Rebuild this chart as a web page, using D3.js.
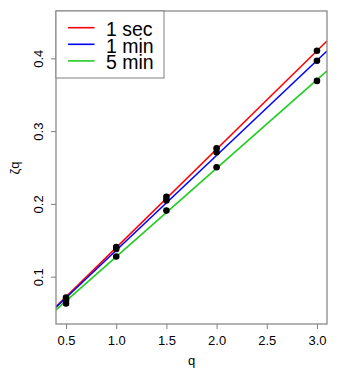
<!DOCTYPE html>
<html><head><meta charset="utf-8">
<script src="https://cdn.jsdelivr.net/npm/d3@7"></script>
<style>body{margin:0;background:#fff}svg{display:block}</style>
</head><body>
<svg id="c" width="338" height="381"></svg>
<script>
const qValues = [0.5, 1.0, 1.5, 2.0, 2.5, 3.0];
const seriesNames = ["1 sec", "1 min", "5 min"];
const seriesColors = ["#ff0000", "#0000ff", "#22cc22"];
const pts1sec = [0.0714, 0.1408, 0.2096, 0.2765, null, 0.4103];
const pts1min = [0.0680, 0.1380, 0.2048, 0.2710, null, 0.3967];
const pts5min = [0.0632, 0.1277, 0.1908, 0.2504, null, 0.3690];
const slopes = [0.1352, 0.1304, 0.1216];
const intercepts = [0.0047, 0.0058, 0.0057];
const xTicks = [0.5, 1.0, 1.5, 2.0, 2.5, 3.0];
const yTicks = [0.1, 0.2, 0.3, 0.4];

const svg = d3.select("#c");
const L = 56, R = 327, T = 11, B = 324;
const x = d3.scaleLinear().domain([0.4, 3.1]).range([L, R]);
const y = d3.scaleLinear().domain([0.035, 0.465]).range([B, T]);
const grey = "#808080";
const font = "Liberation Sans, Arial, sans-serif";

const xAxis = svg.append("g").attr("transform", `translate(0,${B})`)
  .call(d3.axisBottom(x).tickValues(xTicks).tickFormat(d3.format(".1f")).tickSize(5).tickPadding(7));
const yAxis = svg.append("g").attr("transform", `translate(${L},0)`)
  .call(d3.axisLeft(y).tickValues(yTicks).tickFormat(d3.format(".1f")).tickSize(5));
[xAxis, yAxis].forEach(g => {
  g.select(".domain").remove();
  g.selectAll("line").attr("stroke", grey).attr("stroke-width", 1);
  g.selectAll("text").attr("fill", "#000").style("font-family", font).style("font-size", "13px");
});
yAxis.selectAll("text").attr("text-anchor", "middle").attr("dy", null)
  .attr("x", null).attr("y", null)
  .attr("transform", "translate(-13,0) rotate(-90)");
xAxis.selectAll("text").attr("dy", "0.71em");

const series = [pts1sec, pts1min, pts5min];
svg.append("clipPath").attr("id","clp").append("rect")
  .attr("x", L).attr("y", T).attr("width", R-L).attr("height", B-T);

const line = d3.line().x(d => x(d[0])).y(d => y(d[1]));
series.forEach((s, i) => {
  const dom = x.domain();
  svg.append("path").attr("clip-path","url(#clp)")
    .attr("d", line(dom.map(q => [q, intercepts[i] + slopes[i]*q])))
    .attr("stroke", seriesColors[i]).attr("stroke-width", 1.6).attr("fill", "none");
});
series.forEach((s, i) => {
  svg.append("g").selectAll("circle").data(qValues.map((q, j) => [q, s[j]]).filter(d => d[1] != null))
    .join("circle").attr("cx", d => x(d[0])).attr("cy", d => y(d[1])).attr("r", 3.3).attr("fill", "#000");
});

svg.append("rect").attr("x", L).attr("y", T).attr("width", R-L).attr("height", B-T)
  .attr("fill", "none").attr("stroke", grey).attr("stroke-width", 1.2);

// legend
const lg = svg.append("g");
lg.append("rect").attr("x", L).attr("y", T).attr("width", 108).attr("height", 67)
  .attr("fill", "#fff").attr("stroke", grey).attr("stroke-width", 1);
seriesNames.forEach((n, i) => {
  const yy = 27.7 + i*16.6;
  lg.append("line").attr("x1", 68).attr("x2", 94.5).attr("y1", yy).attr("y2", yy)
    .attr("stroke", seriesColors[i]).attr("stroke-width", 1.6);
  lg.append("text").attr("x", 106).attr("y", yy + 8.2).text(n)
    .style("font-family", font).style("font-size", "19.5px").attr("fill", "#000");
});

svg.append("text").attr("x", x(1.75)).attr("y", 365).attr("text-anchor", "middle")
  .style("font-family", font).style("font-size", "13px").text("q");
svg.append("text").attr("transform", `translate(19,${168}) rotate(-90)`).attr("text-anchor", "middle")
  .style("font-family", font).style("font-size", "13px").text("ζq");
</script>
</body></html>
